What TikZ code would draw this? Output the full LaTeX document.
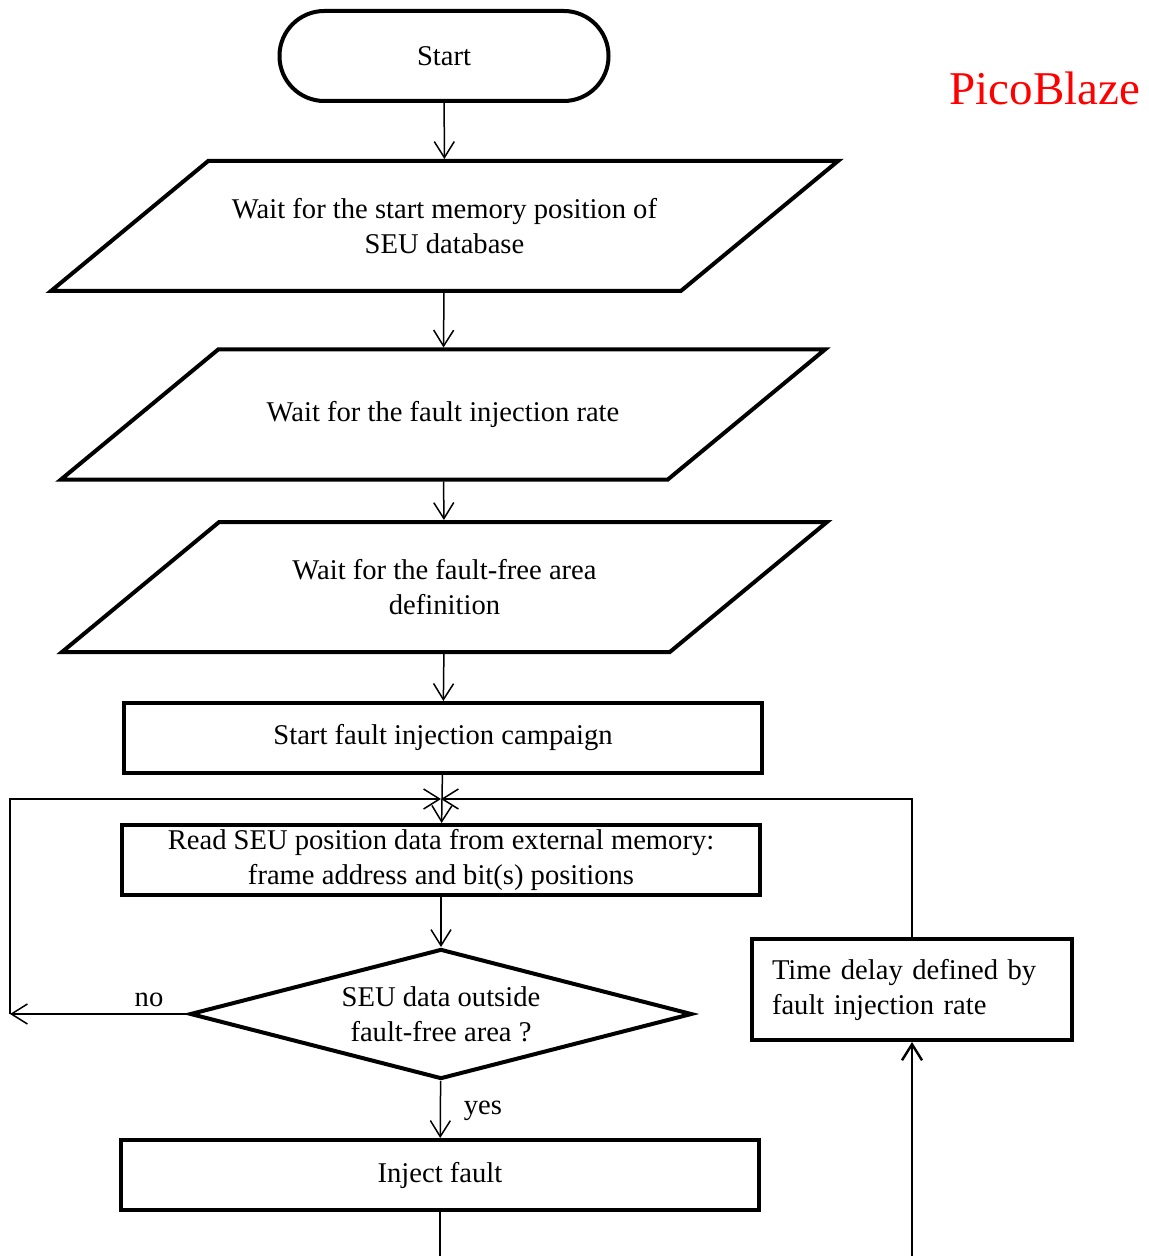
\documentclass[tikz,border=0pt]{standalone}
\usepackage{fontspec}
\setmainfont{Liberation Serif}
\usetikzlibrary{shapes.geometric, arrows.meta}

\newcommand{\iotext}[1]{\parbox[c][65pt][c]{224pt}{\centering #1}}

\begin{document}
\begin{tikzpicture}[x=0.5pt, y=-0.5pt,
  every node/.style={font=\fontsize{14.3}{17.5}\selectfont},
  stepbox/.style={draw, line width=2pt, minimum width=319pt, minimum height=35pt, inner sep=0pt, align=center},
  iobox/.style={draw, line width=2pt, trapezium, trapezium left angle=39.6, trapezium right angle=140.4,
    trapezium stretches body=true, inner sep=0pt},
  link/.style={line width=0.75pt, -{Straight Barb[length=8pt, width=10pt]}}]

  \useasboundingbox (0,0) rectangle (1149,1256);

  % -- Title --
  \node[text=red, font=\fontsize{23.5}{28}\selectfont] (title) at (1045,88) {PicoBlaze};

  % -- Start --
  \node[draw, line width=2pt, rounded corners=22.4pt, minimum width=164.5pt, minimum height=45pt] (start) at (444,56) {Start};

  % -- Input steps --
  \node[iobox, minimum width=393.5pt] (waitpos) at (444.5,226) {\iotext{Wait for the start memory position of\\SEU database}};
  \node[iobox, minimum width=382pt] (waitrate) at (443,414.5) {\iotext{Wait for the fault injection rate}};
  \node[iobox, minimum width=382.5pt] (waitarea) at (444.5,587) {\iotext{Wait for the fault-free area\\definition}};

  % -- Campaign loop --
  \node[stepbox] (campaign) at (443,738) {Start fault injection campaign};
  \coordinate (join) at (441,799);
  \node[stepbox] (readseu) at (441,860) {Read SEU position data from external memory:\\frame address and bit(s) positions};
  \node[draw, diamond, line width=2pt, aspect=3.86, minimum width=251pt, minimum height=65pt, inner sep=0pt, align=center] (check) at (441,1014) {SEU data outside\\fault-free area ?};
  \node[stepbox] (inject) at (440,1175) {Inject fault};
  \node[draw, line width=2pt, text width=140pt, inner xsep=10pt, minimum height=50.5pt, align=left] (delay) at (912,989.5) {Time delay defined by\\fault injection rate};

  \coordinate (nocorner) at (10,1014);
  \coordinate (botleft) at (440,1256);
  \coordinate (botright) at (912,1256);

  % -- Connectors --
  \draw[link] (start) -- (waitpos);
  \draw[link] (waitpos) -- (waitrate);
  \draw[link] (waitrate) -- (waitarea);
  \draw[link] (waitarea) -- (campaign);
  \draw[link] (campaign) -- (readseu);
  \draw[link] (readseu) -- (check);
  \draw[link] (check) -- (inject);
  \draw[link] (check.west) -- (nocorner);
  \draw[link] (nocorner) |- (join);
  \draw[link] (delay.north) |- (join);
  \draw[line width=1.2pt] (inject) -- (botleft);
  \draw[link, line width=1.2pt] (botright) -- (delay);

  % Branch labels
  \node (nolabel) at (149,1000) {no};
  \node (yeslabel) at (483,1111) {yes};

\end{tikzpicture}
\end{document}
